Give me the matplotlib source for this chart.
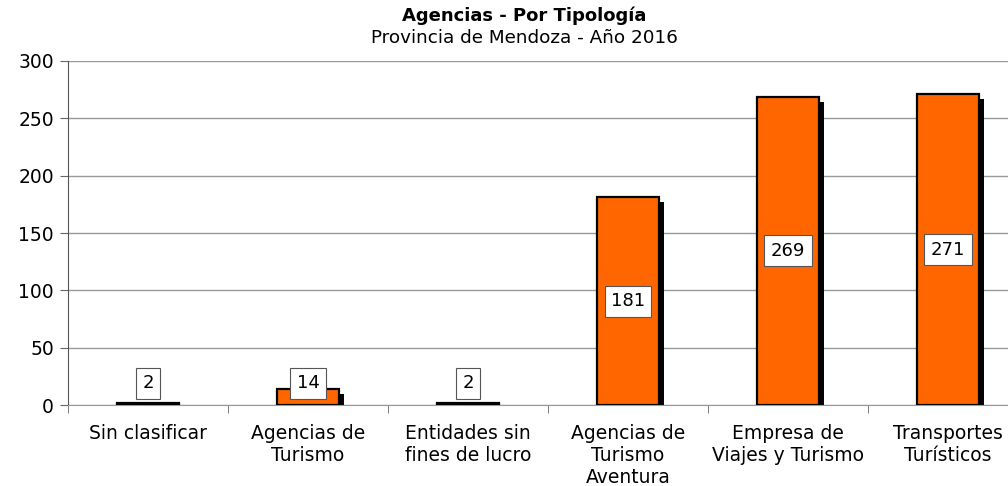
import matplotlib
matplotlib.use("Agg")
import matplotlib.pyplot as plt
import numpy as np

categories = ["Sin clasificar", "Agencias de\nTurismo", "Entidades sin\nfines de lucro",
              "Agencias de\nTurismo\nAventura", "Empresa de\nViajes y Turismo",
              "Transportes\nTurísticos"]
values = [2, 14, 2, 181, 269, 271]

W, H = 1008, 486
fig = plt.figure(figsize=(W / 100, H / 100), dpi=100)
ax = fig.add_axes([68 / W, (486 - 405) / H, 960 / W, 344 / H])

x = np.arange(len(values))
bw = 0.39
dx = 5 / 160
dy = 300 * 5 / 344

# shadows
ax.bar(x + dx, [max(v - dy, 0.0) for v in values], width=bw, bottom=0,
       color="black", zorder=2)
ax.bar(x, values, width=bw, color="#FF6600", edgecolor="black", linewidth=1.6, zorder=3)

for xi, v in zip(x, values):
    yl = max(v / 2, 19)
    ax.text(xi, yl, str(v), ha="center", va="center", fontsize=13, zorder=5,
            bbox=dict(boxstyle="square,pad=0.35", fc="white", ec="#555555", lw=0.8))

ax.set_xlim(-0.5, len(values) - 0.5)
ax.set_ylim(0, 300)
ax.set_yticks(np.arange(0, 301, 50))
ax.yaxis.grid(True, color="#999999", linewidth=1.0, zorder=0)
ax.set_axisbelow(True)
ax.set_xticks(x)
ax.set_xticklabels(categories, fontsize=13.5, linespacing=1.17)
ax.tick_params(axis="x", length=0, pad=14)
ax.set_xticks(np.arange(-0.5, len(values), 1), minor=True)
ax.tick_params(axis="x", which="minor", length=6, color="#666666")
ax.tick_params(axis="y", labelsize=13.5, length=6, color="#666666", pad=4)
for s in ["top", "right"]:
    ax.spines[s].set_visible(False)
ax.spines["left"].set_color("#555555")
ax.spines["bottom"].set_color("#999999")

fig.text(524 / W, 1 - 16 / H, "Agencias - Por Tipología", ha="center", va="center",
         fontsize=13, fontweight="bold")
fig.text(524 / W, 1 - 38 / H, "Provincia de Mendoza - Año 2016", ha="center", va="center",
         fontsize=13.2)

fig.savefig("out.png", dpi=100)
